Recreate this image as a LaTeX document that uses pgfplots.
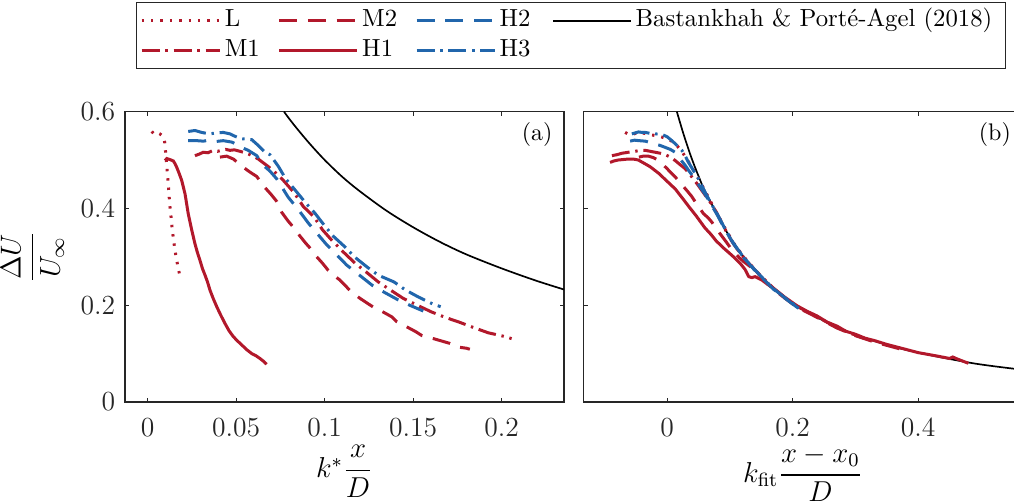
\documentclass[border=0pt]{standalone}
\usepackage{amsmath}
\usepackage{pgfplots}
\pgfplotsset{compat=1.18}
\definecolor{cred}{HTML}{B2182B}
\definecolor{cblue}{HTML}{2166AC}
\definecolor{axgray}{HTML}{262626}

\tikzset{
  Lsty/.style={cred, line width=1.25pt, dash pattern=on 1pt off 2.9pt},
  M1sty/.style={cred, line width=1.25pt, dash pattern=on 7.5pt off 2.4pt on 1pt off 2.4pt},
  M2sty/.style={cred, line width=1.25pt, dash pattern=on 7.5pt off 4.5pt},
  H1sty/.style={cred, line width=1.25pt, solid},
  H2sty/.style={cblue, line width=1.25pt, dash pattern=on 7.5pt off 4.5pt},
  H3sty/.style={cblue, line width=1.25pt, dash pattern=on 7.5pt off 2.4pt on 1pt off 2.4pt},
  BPsty/.style={black, line width=0.7pt, solid},
}

\pgfplotsset{
  panel/.style={
    scale only axis,
    width=182.9pt, height=121pt,
    ymin=0, ymax=0.6,
    ytick={0,0.2,0.4,0.6},
    tick align=inside,
    major tick length=1.8pt,
    axis line style={draw=axgray, line width=0.5pt},
    every tick/.style={axgray, line width=0.5pt},
    tick label style={color=axgray, font=\fontsize{11.5}{13}\selectfont},
    xticklabel style={yshift=-3.0pt},
    yticklabel style={xshift=-0.6pt},
    label style={font=\large, color=black},
    xlabel style={inner ysep=0pt, yshift=-0.2pt},
    no markers,
    clip=true,
  },
}

\begin{document}
\begin{tikzpicture}

% ---------------- (a) ----------------
\begin{axis}[panel,
  at={(0pt,0pt)}, anchor=south west,
  xmin=-0.0128, xmax=0.2352,
  xtick={0,0.05,0.1,0.15,0.2},
  xticklabels={0,0.05,0.1,0.15,0.2},
  yticklabels={0,0.2,0.4,0.6},
  xlabel={$k^*\dfrac{x}{D}$},
  ylabel={$\dfrac{\Delta U}{U_\infty}$},
  legend columns=4,
  legend cell align=left,
  legend image code/.code={\draw[#1] (0pt,0pt) -- (32.5pt,0pt);},
  legend style={at={(0.025,1.377)}, anchor=north west,
    draw=axgray, line width=0.5pt,
    inner xsep=1.5pt, inner ysep=1.25pt,
    column sep=0pt, row sep=0pt,
    nodes={inner xsep=1.5pt, inner ysep=1.5pt, text height=7pt, text depth=2.5pt,
      font=\fontsize{10.3}{12}\selectfont, anchor=west}},
]
\addlegendimage{Lsty}\addlegendentry{\makebox[20.5pt][l]{L}}
\addlegendimage{M2sty}\addlegendentry{\makebox[20.5pt][l]{M2}}
\addlegendimage{H2sty}\addlegendentry{\makebox[20.5pt][l]{H2}}
\addlegendimage{BPsty}\addlegendentry{\makebox[151pt][l]{Bastankhah \& Port\'{e}-Agel (2018)}}
\addlegendimage{M1sty}\addlegendentry{\makebox[20.5pt][l]{M1}}
\addlegendimage{H1sty}\addlegendentry{\makebox[20.5pt][l]{H1}}
\addlegendimage{H3sty}\addlegendentry{\makebox[20.5pt][l]{H3}}

% Bastankhah & Porte-Agel (2018)
\addplot[BPsty, smooth, forget plot] coordinates {
(0.0770,0.600) (0.0800,0.585) (0.0850,0.562) (0.0917,0.533) (0.1000,0.500)
(0.1100,0.465) (0.1200,0.435) (0.1350,0.395) (0.1500,0.361) (0.1650,0.331)
(0.1800,0.305) (0.2000,0.276) (0.2200,0.250) (0.2400,0.227)};

% L
\addplot[Lsty, forget plot] coordinates {
(0.0023,0.559) (0.0035,0.554) (0.0045,0.553) (0.0058,0.556) (0.0069,0.554)
(0.0080,0.551) (0.0088,0.548) (0.0096,0.537) (0.0100,0.521) (0.0107,0.492)
(0.0113,0.465) (0.0119,0.437) (0.0124,0.410) (0.0132,0.382) (0.0139,0.355)
(0.0149,0.327) (0.0160,0.300) (0.0173,0.276) (0.0183,0.258)};

% M1
\addplot[M1sty, forget plot] coordinates {
(0.0267,0.509) (0.0290,0.512) (0.0314,0.516) (0.0340,0.515) (0.0371,0.520)
(0.0395,0.518) (0.0418,0.520) (0.0440,0.522) (0.0465,0.520) (0.0490,0.521)
(0.0521,0.518) (0.0550,0.515) (0.0578,0.511) (0.0600,0.507) (0.0625,0.502)
(0.0650,0.495) (0.0672,0.489) (0.0710,0.478) (0.0766,0.458) (0.0828,0.432)
(0.0879,0.404) (0.0941,0.382) (0.0987,0.356) (0.1043,0.333) (0.1105,0.310)
(0.1171,0.287) (0.1233,0.269) (0.1303,0.248) (0.1373,0.231) (0.1444,0.214)
(0.1523,0.200) (0.1604,0.186) (0.1680,0.175) (0.1760,0.165) (0.1840,0.154)
(0.1924,0.143) (0.2009,0.136) (0.2056,0.131)};

% M2
\addplot[M2sty, forget plot] coordinates {
(0.0408,0.506) (0.0446,0.508) (0.0484,0.502) (0.0510,0.494) (0.0540,0.485)
(0.0578,0.475) (0.0616,0.466) (0.0660,0.444) (0.0697,0.429) (0.0730,0.414)
(0.0757,0.392) (0.0791,0.375) (0.0823,0.361) (0.0860,0.343) (0.0893,0.328)
(0.0930,0.313) (0.0955,0.300) (0.0987,0.287) (0.1020,0.272) (0.1050,0.262)
(0.1086,0.252) (0.1152,0.227) (0.1200,0.214) (0.1237,0.205) (0.1275,0.196)
(0.1320,0.188) (0.1379,0.176) (0.1407,0.166) (0.1460,0.156) (0.1516,0.145)
(0.1550,0.137) (0.1614,0.131) (0.1661,0.126) (0.1708,0.121) (0.1746,0.114)
(0.1802,0.111) (0.1820,0.109)};

% H1
\addplot[H1sty, forget plot] coordinates {
(0.0098,0.499) (0.0108,0.503) (0.0117,0.502) (0.0132,0.500) (0.0145,0.498)
(0.0155,0.492) (0.0164,0.485) (0.0178,0.472) (0.0192,0.458) (0.0211,0.430)
(0.0229,0.389) (0.0249,0.355) (0.0267,0.327) (0.0280,0.310) (0.0295,0.293)
(0.0310,0.275) (0.0324,0.262) (0.0338,0.248) (0.0352,0.231) (0.0370,0.214)
(0.0390,0.197) (0.0412,0.180) (0.0437,0.162) (0.0460,0.147) (0.0484,0.135)
(0.0505,0.127) (0.0531,0.118) (0.0560,0.108) (0.0588,0.100) (0.0610,0.096)
(0.0634,0.090) (0.0655,0.084) (0.0672,0.078)};

% H2
\addplot[H2sty, forget plot] coordinates {
(0.0229,0.540) (0.0277,0.540) (0.0314,0.539) (0.0350,0.541) (0.0380,0.538)
(0.0427,0.540) (0.0475,0.537) (0.0505,0.532) (0.0531,0.526) (0.0568,0.520)
(0.0616,0.509) (0.0653,0.489) (0.0691,0.477) (0.0729,0.461) (0.0794,0.423)
(0.0850,0.398) (0.0907,0.370) (0.0960,0.347) (0.1011,0.325) (0.1070,0.303)
(0.1124,0.283) (0.1200,0.261) (0.1269,0.241) (0.1340,0.226) (0.1410,0.212)
(0.1480,0.200) (0.1557,0.188)};

% H3
\addplot[H3sty, forget plot] coordinates {
(0.0229,0.559) (0.0267,0.561) (0.0305,0.557) (0.0348,0.554) (0.0390,0.556)
(0.0427,0.557) (0.0465,0.554) (0.0493,0.549) (0.0531,0.544) (0.0588,0.542)
(0.0625,0.530) (0.0663,0.516) (0.0691,0.511) (0.0738,0.487) (0.0780,0.461)
(0.0835,0.437) (0.0889,0.413) (0.0945,0.390) (0.0998,0.365) (0.1050,0.342)
(0.1110,0.322) (0.1171,0.299) (0.1239,0.279) (0.1303,0.262) (0.1392,0.248)
(0.1454,0.232) (0.1529,0.217) (0.1614,0.202) (0.1655,0.197)};

\node[anchor=north east, inner sep=0pt] at ([xshift=-4.6pt,yshift=-4.2pt]rel axis cs:1,1) {(a)};
\end{axis}

% ---------------- (b) ----------------
\begin{axis}[panel,
  at={(191pt,0pt)}, anchor=south west,
  xmin=-0.1334, xmax=0.566,
  xtick={0,0.2,0.4},
  xticklabels={0,0.2,0.4},
  yticklabels={},
  xlabel={$k_{\mathrm{fit}}\dfrac{x-x_0}{D}$},
]
\addplot[BPsty, smooth] coordinates {
(0.0154,0.600) (0.0250,0.558) (0.0340,0.522) (0.0420,0.493) (0.0499,0.467)
(0.0579,0.442) (0.0700,0.411) (0.0792,0.389) (0.0920,0.358) (0.1057,0.328)
(0.1200,0.302) (0.1376,0.276) (0.1530,0.255) (0.1694,0.235) (0.1880,0.215)
(0.2067,0.198) (0.2386,0.175) (0.2704,0.155) (0.3000,0.139) (0.3300,0.126)
(0.3766,0.109) (0.4300,0.094) (0.4829,0.081) (0.5200,0.074) (0.5700,0.066)};

\addplot[Lsty] coordinates {
(-0.067,0.557) (-0.060,0.552) (-0.055,0.553) (-0.048,0.556) (-0.040,0.556)
(-0.032,0.554) (-0.025,0.552) (-0.017,0.550) (-0.010,0.548) (0.002,0.543)
(0.012,0.535) (0.022,0.520) (0.030,0.505) (0.038,0.488) (0.048,0.466)
(0.060,0.437) (0.075,0.400) (0.090,0.364) (0.105,0.330) (0.120,0.303)
(0.138,0.276) (0.150,0.258)};

\addplot[M1sty] coordinates {
(-0.088,0.509) (-0.080,0.511) (-0.072,0.514) (-0.062,0.516) (-0.051,0.518)
(-0.043,0.520) (-0.035,0.520) (-0.027,0.518) (-0.019,0.516) (-0.011,0.514)
(-0.003,0.511) (0.005,0.506) (0.0127,0.499) (0.0210,0.490) (0.0287,0.482)
(0.0393,0.465) (0.0470,0.452) (0.0553,0.437) (0.0630,0.423) (0.0712,0.408)
(0.0800,0.388) (0.0871,0.370) (0.0950,0.350) (0.1031,0.332) (0.1120,0.315)
(0.1200,0.302) (0.1300,0.287) (0.1376,0.276) (0.1530,0.256) (0.1694,0.235)
(0.1880,0.215) (0.2067,0.198) (0.2386,0.176) (0.2704,0.154) (0.2900,0.143)
(0.3150,0.131)};

\addplot[M2sty] coordinates {
(-0.045,0.506) (-0.038,0.508) (-0.030,0.508) (-0.022,0.505) (-0.015,0.500)
(-0.008,0.492) (0.000,0.482) (0.005,0.475) (0.0127,0.465) (0.020,0.455)
(0.026,0.445) (0.032,0.436) (0.039,0.425) (0.048,0.407) (0.058,0.389)
(0.065,0.381) (0.071,0.372) (0.079,0.357) (0.087,0.343) (0.094,0.331)
(0.100,0.320) (0.108,0.308) (0.115,0.298) (0.122,0.290) (0.130,0.282)
(0.1376,0.275) (0.1530,0.254) (0.1694,0.233) (0.1880,0.214) (0.2067,0.196)
(0.2386,0.175) (0.2704,0.153) (0.3000,0.137) (0.3300,0.124) (0.3500,0.117)
(0.3700,0.110)};

\addplot[H1sty] coordinates {
(-0.091,0.495) (-0.085,0.498) (-0.078,0.500) (-0.070,0.501) (-0.062,0.502)
(-0.054,0.502) (-0.046,0.500) (-0.035,0.492) (-0.027,0.486) (-0.019,0.478)
(-0.012,0.471) (-0.005,0.462) (0.004,0.451) (0.013,0.440) (0.025,0.420)
(0.035,0.403) (0.046,0.385) (0.060,0.360) (0.070,0.346) (0.078,0.333)
(0.090,0.318) (0.104,0.302) (0.116,0.287) (0.124,0.274) (0.130,0.259)
(0.135,0.257) (0.140,0.259) (0.151,0.252) (0.160,0.243) (0.1694,0.235)
(0.188,0.216) (0.2067,0.199) (0.222,0.188) (0.2386,0.178) (0.255,0.165)
(0.2704,0.157) (0.285,0.146) (0.300,0.140) (0.315,0.132) (0.330,0.127)
(0.350,0.119) (0.3766,0.110) (0.400,0.102) (0.430,0.095) (0.450,0.090)
(0.455,0.093) (0.462,0.089) (0.480,0.080)};

\addplot[H2sty] coordinates {
(-0.059,0.539) (-0.052,0.541) (-0.045,0.540) (-0.035,0.539) (-0.027,0.536)
(-0.019,0.533) (-0.011,0.530) (-0.003,0.526) (0.005,0.522) (0.0127,0.516)
(0.020,0.503) (0.0287,0.489) (0.035,0.477) (0.042,0.465) (0.0553,0.439)
(0.0606,0.429) (0.0700,0.408) (0.0792,0.388) (0.0920,0.357) (0.1057,0.327)
(0.1200,0.301) (0.1376,0.275) (0.1530,0.254) (0.1694,0.233) (0.1880,0.214)
(0.2067,0.196) (0.2150,0.189)};

\addplot[H3sty] coordinates {
(-0.0563,0.554) (-0.0510,0.556) (-0.0457,0.558) (-0.0400,0.557) (-0.0350,0.557)
(-0.0270,0.555) (-0.0191,0.554) (-0.0085,0.553) (0.0000,0.548) (0.0075,0.540)
(0.0150,0.531) (0.0234,0.520) (0.0290,0.508) (0.0340,0.495) (0.0420,0.478)
(0.0500,0.461) (0.0606,0.433) (0.0700,0.410) (0.0792,0.390) (0.0920,0.358)
(0.1057,0.328) (0.1200,0.302) (0.1376,0.276) (0.1530,0.255) (0.1694,0.234)
(0.1880,0.215) (0.2070,0.197)};

\node[anchor=north east, inner sep=0pt] at ([xshift=-4.6pt,yshift=-4.2pt]rel axis cs:1,1) {(b)};
\end{axis}

\pgfresetboundingbox
\useasboundingbox (-52.1pt,-42.1pt) rectangle (370.4pt,167.5pt);
\end{tikzpicture}
\end{document}
